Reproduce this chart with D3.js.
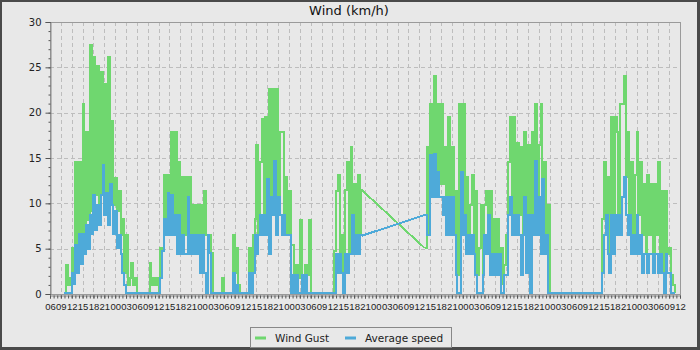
<!DOCTYPE html>
<html>
<head>
<meta charset="utf-8">
<script src="https://cdn.jsdelivr.net/npm/d3@7"></script>
<style>
  html, body { margin: 0; padding: 0; background: #4a4a4a; }
  svg { display: block; font-family: "DejaVu Sans", sans-serif; }
</style>
</head>
<body>
<svg id="chart" width="700" height="350"></svg>
<script>
// half-hourly readings, hours counted from 06:00 on the first day
let stepHours = 0.5;
let startA = 4;      // first block starts 10:00 day 1
let startB = 103.5;  // second block starts 13:30 day 5 (gap before it)

let gustA = [
    0, 3.1, 0.9, 1.6, 5.0, 2.2, 14.5, 5.3, 14.5, 6.5,
    20.9, 6.5, 17.8, 8.0, 27.4, 9.0, 26.0, 10.8, 25.0, 9.7,
    24.4, 14.1, 23.0, 11.0, 26.0, 12.0, 19.0, 9.7, 12.7, 9.0,
    11.3, 6.4, 8.2, 2.2, 6.4, 0.9, 1.6, 3.3, 0.9, 1.6,
    0, 0, 0, 0, 0, 0, 0, 3.3, 0.9, 1.6,
    0.9, 1.6, 0, 5.0, 4.6, 13.0, 8.2, 13.0, 11.0, 17.8,
    8.6, 17.8, 8.6, 14.5, 6.4, 12.8, 6.4, 12.8, 10.6, 12.8,
    6.4, 9.7, 6.4, 9.7, 6.4, 9.7, 6.4, 11.2, 6.4, 6.4,
    6.4, 4.4, 0, 0, 0, 0, 0, 1.6, 0, 0,
    0, 0, 0, 6.4, 2.2, 5.0, 0.9, 0, 0, 0,
    0, 0, 5.0, 2.2, 6.4, 8.2, 16.3, 6.4, 14.5, 19.2,
    8.6, 19.4, 12.6, 22.5, 10.6, 22.5, 14.6, 22.5, 10.6, 17.8,
    17.8, 8.6, 12.8, 6.4, 11.2, 5.3, 5.3, 2.0, 3.1, 1.6,
    8.1, 2.0, 1.6, 3.1, 2.0, 8.1, 0, 0, 0, 0,
    0, 0, 0, 0, 0, 0, 0, 0, 0, 4.6,
    11.2, 13.0, 4.3, 6.4, 2.2, 11.4, 14.5, 4.3, 16.1, 8.6,
    12.0, 4.3, 13.0, 6.4, 11.4
];
let avgA = [
    0, 0, 0, 0, 2.2, 1.0, 5.3, 2.2, 6.5, 3.2,
    6.5, 4.3, 7.5, 4.8, 8.6, 6.5, 10.8, 7.0, 9.7, 7.5,
    10.8, 14.1, 8.6, 11.0, 7.5, 12.0, 9.7, 6.5, 9.0, 5.0,
    6.4, 4.3, 2.2, 0.9, 0, 0, 0, 0, 0, 0,
    0, 0, 0, 0, 0, 0, 0, 0, 0, 0,
    0, 0, 0, 1.6, 4.6, 8.2, 6.4, 11.0, 6.4, 10.8,
    6.4, 8.6, 4.3, 8.6, 4.3, 6.4, 4.3, 4.3, 10.6, 4.3,
    6.4, 4.3, 6.4, 4.3, 6.4, 2.2, 6.4, 2.2, 0, 6.4,
    4.4, 0, 0, 0, 0, 0, 0, 0, 0, 0,
    0, 0, 0, 2.2, 0, 0.9, 0, 0, 0, 0,
    0, 0, 2.2, 0, 2.2, 6.4, 4.3, 6.4, 8.6, 6.4,
    8.6, 6.4, 12.6, 4.3, 10.6, 8.6, 14.6, 6.4, 10.6, 8.6,
    6.4, 8.6, 6.4, 6.4, 6.4, 0, 2.0, 0, 2.0, 0,
    0, 2.0, 0, 2.0, 0, 0, 0, 0, 0, 0,
    0, 0, 0, 0, 0, 0, 0, 0, 0, 0,
    4.3, 2.2, 4.3, 2.2, 0, 4.3, 2.2, 4.3, 4.3, 8.6,
    4.3, 6.4, 4.3, 6.4, 6.3
];
let gustB = [
    4.95, 16.1, 6.4, 20.9, 13.3, 23.9, 13.3, 20.9, 12.0, 20.9,
    12.0, 16.1, 10.6, 19.4, 10.6, 16.1, 6.4, 11.2, 2.0, 20.9,
    13.3, 20.9, 8.6, 12.8, 6.4, 9.7, 13.0, 4.3, 11.2, 2.0,
    5.0, 9.7, 2.0, 9.7, 11.3, 6.4, 11.3, 4.3, 8.2, 4.3,
    8.2, 2.0, 5.0, 1.0, 3.1, 6.4, 14.5, 19.4, 8.6, 19.4,
    8.6, 16.5, 8.6, 16.1, 6.4, 17.8, 8.6, 16.3, 8.6, 17.8,
    8.6, 20.9, 10.6, 16.3, 20.9, 12.6, 14.5, 6.4, 9.7, 0,
    0, 0, 0, 0, 0, 0, 0, 0, 0, 0,
    0, 0, 0, 0, 0, 0, 0, 0, 0, 0,
    0, 0, 0, 0, 0, 0, 0, 0, 8.2, 14.5,
    8.6, 12.8, 4.3, 19.4, 8.6, 19.4, 17.8, 8.6, 20.9, 20.9,
    23.9, 12.8, 17.8, 8.6, 14.5, 6.4, 13.0, 17.8, 8.6, 14.5,
    6.4, 12.0, 4.3, 13.0, 6.4, 12.0, 4.3, 12.0, 6.4, 14.5,
    4.3, 11.2, 2.2, 11.3, 4.3, 5.0, 2.0, 0.9, 0
];
let avgB = [
    8.6, 6.4, 6.4, 15.2, 10.6, 15.3, 10.6, 13.3, 10.6, 10.6,
    8.6, 10.6, 6.4, 10.6, 6.4, 10.6, 6.4, 2.0, 0, 0,
    13.3, 6.4, 8.6, 4.3, 6.4, 4.3, 6.4, 4.3, 2.0, 0,
    0, 0, 2.0, 6.4, 4.3, 8.6, 2.0, 4.3, 2.0, 4.3,
    2.0, 4.3, 0, 0, 2.0, 2.0, 8.6, 10.6, 6.4, 8.6,
    6.4, 8.6, 6.4, 2.0, 6.4, 10.6, 2.2, 8.6, 0, 8.6,
    6.4, 14.6, 6.4, 10.6, 4.3, 12.6, 4.3, 6.4, 0, 0,
    0, 0, 0, 0, 0, 0, 0, 0, 0, 0,
    0, 0, 0, 0, 0, 0, 0, 0, 0, 0,
    0, 0, 0, 0, 0, 0, 0, 0, 2.2, 6.4,
    8.6, 4.3, 2.2, 8.6, 4.3, 8.6, 6.4, 8.6, 6.4, 10.6,
    12.8, 8.6, 6.4, 8.6, 4.3, 6.4, 4.3, 8.6, 4.3, 6.4,
    2.2, 4.3, 4.3, 2.2, 4.3, 4.3, 2.2, 4.3, 4.3, 2.2,
    4.3, 2.2, 0, 4.3, 2.2, 2.2, 0, 0, 0
];

let seriesNames = ["Wind Gust", "Average speed"];
let seriesColors = ["#6fd76f", "#4eaad9"];
let yTicks = [0, 5, 10, 15, 20, 25, 30];
let totalHours = 174;   // 06:00 day 1 .. 12:00 day 8

let baseTime = Date.UTC(2000, 0, 1, 6);
let hourMs = 3600 * 1000;

function toPoints(start, values) {
    let pts = [];
    for (let i = 0; i < values.length; i++) {
        pts.push({t: new Date(baseTime + (start + i * stepHours) * hourMs), v: values[i]});
    }
    return pts;
}

let series = [
    [toPoints(startA, gustA), toPoints(startB, gustB)],
    [toPoints(startA, avgA), toPoints(startB, avgB)]
];

let margin = {top: 22, right: 20, bottom: 56, left: 50};
let W = 700, H = 350;
let plotW = W - margin.left - margin.right;
let plotH = H - margin.top - margin.bottom;

let svg = d3.select("#chart");

// frame
svg.append("rect").attr("x", 2).attr("y", 2).attr("width", 695).attr("height", 345)
    .attr("fill", "#e8e8e8");

svg.append("text")
    .attr("x", 349).attr("y", 15)
    .attr("text-anchor", "middle")
    .attr("font-size", 13).attr("fill", "#111")
    .text("Wind (km/h)");

let g = svg.append("g").attr("transform", "translate(" + margin.left + "," + margin.top + ")");

let x = d3.scaleUtc()
    .domain([new Date(baseTime), new Date(baseTime + totalHours * hourMs)])
    .range([0, plotW]);
let y = d3.scaleLinear().domain([0, 30]).range([plotH, 0]);

// grid
g.append("g").selectAll("line")
    .data(yTicks.slice(1, -1))
    .join("line")
    .attr("x1", 0).attr("x2", plotW)
    .attr("y1", d => Math.round(y(d)) + 0.5).attr("y2", d => Math.round(y(d)) + 0.5)
    .attr("stroke", "#bdbdbd").attr("stroke-dasharray", "4,3");
g.append("g").selectAll("line")
    .data(x.ticks(d3.utcHour.every(3)).slice(1, -1))
    .join("line")
    .attr("x1", d => Math.round(x(d)) + 0.5).attr("x2", d => Math.round(x(d)) + 0.5)
    .attr("y1", 0).attr("y2", plotH)
    .attr("stroke", "#bdbdbd").attr("stroke-dasharray", "4,3");

// plot outline
g.append("rect").attr("x", 0.5).attr("y", 0.5).attr("width", plotW).attr("height", plotH)
    .attr("fill", "none").attr("stroke", "#9a9a9a");

// series: step lines inside each block, straight join across the missing data
let stepLine = d3.line().x(d => x(d.t)).y(d => y(d.v) - 1).curve(d3.curveStepAfter);
let joinLine = d3.line().x(d => x(d.t)).y(d => y(d.v) - 1);
series.forEach(function (blocks, i) {
    let sg = g.append("g")
        .attr("fill", "none")
        .attr("stroke", seriesColors[i])
        .attr("stroke-width", 2)
        .attr("shape-rendering", "crispEdges");
    blocks.forEach(function (pts) {
        sg.append("path").datum(pts).attr("d", stepLine);
    });
    sg.append("path")
        .datum([blocks[0][blocks[0].length - 1], blocks[1][0]])
        .attr("d", joinLine);
});

// y axis
g.append("g").attr("transform", "translate(0.5,0)")
    .call(d3.axisLeft(y).tickValues(yTicks).tickSize(5).tickPadding(4));
g.append("g").attr("transform", "translate(0.5,0)")
    .call(d3.axisLeft(y).tickValues(d3.range(0, 31)).tickSize(2).tickFormat(""))
    .select(".domain").remove();

// x axis
let xAxis = g.append("g").attr("transform", "translate(0," + (plotH + 1.5) + ")")
    .call(d3.axisBottom(x).ticks(d3.utcHour.every(3)).tickFormat(d3.utcFormat("%H"))
        .tickSize(3).tickSizeOuter(0).tickPadding(5));
g.append("g").attr("transform", "translate(0," + (plotH + 1.5) + ")")
    .call(d3.axisBottom(x).ticks(d3.utcHour.every(1)).tickSize(3).tickFormat(""))
    .select(".domain").remove();

g.selectAll(".domain").attr("stroke", "#888");
g.selectAll(".tick line").attr("stroke", "#555");
g.selectAll(".tick text").attr("font-family", "DejaVu Sans").attr("font-size", 10).attr("fill", "#222");
// hour labels sit almost edge to edge; a narrower face keeps them apart
xAxis.selectAll(".tick text")
    .attr("font-family", "Liberation Sans, Arial, sans-serif")
    .attr("font-size", 9.5);

// legend
let legend = svg.append("g").attr("transform", "translate(250,327)");
legend.append("rect").attr("x", 0.5).attr("y", 0.5).attr("width", 201).attr("height", 20)
    .attr("fill", "#e8e8e8").attr("stroke", "#888");
let itemX = [5, 95];
seriesNames.forEach(function (name, i) {
    let item = legend.append("g").attr("transform", "translate(" + itemX[i] + ",0)");
    item.append("line").attr("x1", 0).attr("x2", 11).attr("y1", 11).attr("y2", 11)
        .attr("stroke", seriesColors[i]).attr("stroke-width", 3);
    item.append("text").attr("x", 20).attr("y", 14.5)
        .attr("font-size", 10.5).attr("fill", "#222").text(name);
});
</script>
</body>
</html>
